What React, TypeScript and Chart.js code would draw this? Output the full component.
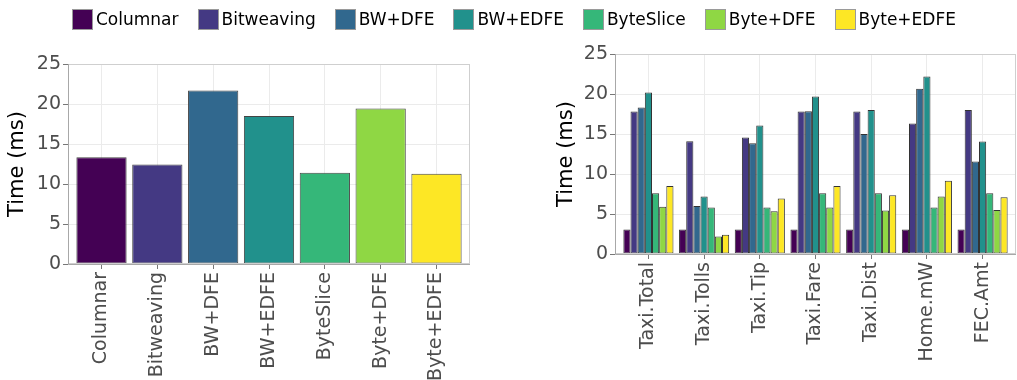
import React, { useEffect, useRef } from "react";
import { Chart, registerables } from "chart.js";

Chart.register(...registerables);

const methods = ["Columnar", "Bitweaving", "BW+DFE", "BW+EDFE", "ByteSlice", "Byte+DFE", "Byte+EDFE"];
const colors = ["#440154", "#443983", "#31688e", "#21918c", "#35b779", "#8fd744", "#fde725"];

// Left panel: overall time per method
const overallTimes = [13.35, 12.44, 21.7, 18.5, 11.4, 19.45, 11.27];

// Right panel: time per query per method
const queries = ["Taxi.Total", "Taxi.Tolls", "Taxi.Tip", "Taxi.Fare", "Taxi.Dist", "Home.mW", "FEC.Amt"];
const columnar = [3.05, 3.05, 3.05, 3.05, 3.05, 3.05, 3.05];
const bitweaving = [17.8, 14.1, 14.55, 17.8, 17.8, 16.3, 18.0];
const bwDfe = [18.3, 6.0, 13.85, 17.85, 15.0, 20.65, 11.55];
const bwEdfe = [20.2, 7.2, 16.05, 19.7, 18.0, 22.2, 14.05];
const byteSlice = [7.6, 5.8, 5.8, 7.6, 7.6, 5.8, 7.6];
const byteDfe = [5.9, 2.2, 5.35, 5.8, 5.45, 7.2, 5.5];
const byteEdfe = [8.5, 2.4, 6.95, 8.5, 7.35, 9.15, 7.1];
const querySeries = [columnar, bitweaving, bwDfe, bwEdfe, byteSlice, byteDfe, byteEdfe];

const yTicksMax = 25;
const FONT = "'DejaVu Sans', sans-serif";

const panelPlugin = {
  id: "panelBorder",
  afterDatasetsDraw(chart: any) {
    const { ctx, chartArea: a } = chart;
    ctx.save();
    ctx.lineWidth = 1;
    ctx.strokeStyle = "#cfcfcf";
    ctx.strokeRect(Math.round(a.left) + 0.5, Math.round(a.top) + 0.5, Math.round(a.right - a.left) - 1, Math.round(a.bottom - a.top) - 1);
    ctx.strokeStyle = "#a8a8a8";
    ctx.beginPath();
    ctx.moveTo(Math.round(a.left) + 0.5, Math.round(a.top));
    ctx.lineTo(Math.round(a.left) + 0.5, Math.round(a.bottom) + 0.5);
    ctx.lineTo(Math.round(a.right), Math.round(a.bottom) + 0.5);
    ctx.stroke();
    ctx.restore();
  },
};

function makeOptions(labels: string[], pad: any, yWidth: number, xHeight: number) {
  return {
    responsive: false,
    animation: false as const,
    devicePixelRatio: 1,
    layout: { padding: pad },
    plugins: { legend: { display: false }, tooltip: { enabled: false } },
    datasets: { bar: { categoryPercentage: 0.9, barPercentage: 1 } },
    scales: {
      x: {
        type: "linear" as const,
        min: -0.6,
        max: labels.length - 0.4,
        offset: false,
        afterBuildTicks: (s: any) => {
          s.ticks = labels.map((_, i) => ({ value: i }));
        },
        afterFit: (s: any) => {
          s.height = xHeight;
        },
        ticks: {
          autoSkip: false,
          maxRotation: 90,
          minRotation: 90,
          padding: 3,
          color: "#4d4d4d",
          font: { family: FONT, size: 19 },
          callback: (v: any) => labels[Math.round(v)] ?? "",
        },
        grid: {
          offset: false,
          color: "#ebebeb",
          tickLength: 5,
          tickColor: "#777777",
        },
        border: { display: false },
      },
      y: {
        min: 0,
        max: yTicksMax,
        afterFit: (s: any) => {
          s.width = yWidth;
        },
        ticks: {
          stepSize: 2.5,
          padding: 2,
          color: "#4d4d4d",
          font: { family: FONT, size: 19 },
          callback: (v: any) => (v % 5 === 0 ? String(v) : ""),
        },
        grid: {
          color: (c: any) => (c.tick && c.tick.value % 5 === 0 ? "#ebebeb" : "#f5f5f5"),
          tickColor: (c: any) => (c.tick && c.tick.value % 5 === 0 ? "#777777" : "rgba(0,0,0,0)"),
          tickLength: 5,
        },
        border: { display: false },
        title: {
          display: true,
          text: "Time (ms)",
          color: "#000000",
          font: { family: FONT, size: 21, lineHeight: 1.2 },
          padding: { top: 4, bottom: 4 },
        },
      },
    },
  };
}

function LeftChart() {
  const ref = useRef<HTMLCanvasElement>(null);
  useEffect(() => {
    const chart = new Chart(ref.current as HTMLCanvasElement, {
      type: "bar",
      data: {
        datasets: [
          {
            label: "Time",
            data: overallTimes.map((v, i) => ({ x: i, y: v })),
            backgroundColor: colors,
            borderColor: "#444444",
            borderWidth: 1,
            borderSkipped: false,
          },
        ],
      },
      options: makeOptions(methods, { left: 1, top: 64, right: 30, bottom: 0 }, 67, 116) as any,
      plugins: [panelPlugin],
    });
    return () => chart.destroy();
  }, []);
  return <canvas ref={ref} width={500} height={380} style={{ position: "absolute", left: 0, top: 0, width: 500, height: 380 }} />;
}

function RightChart() {
  const ref = useRef<HTMLCanvasElement>(null);
  useEffect(() => {
    const chart = new Chart(ref.current as HTMLCanvasElement, {
      type: "bar",
      data: {
        datasets: querySeries.map((s, k) => ({
          label: methods[k],
          data: s.map((v, i) => ({ x: i, y: v })),
          backgroundColor: colors[k],
          borderColor: "#333333",
          borderWidth: 1,
          borderSkipped: false,
        })),
      },
      options: makeOptions(queries, { left: 20, top: 54, right: 1, bottom: 0 }, 65, 126) as any,
      plugins: [panelPlugin],
    });
    return () => chart.destroy();
  }, []);
  return <canvas ref={ref} width={487} height={380} style={{ position: "absolute", left: 530, top: 0, width: 487, height: 380 }} />;
}

function Legend() {
  return (
    <div
      style={{
        position: "absolute",
        left: 72,
        top: 9,
        display: "flex",
        alignItems: "center",
        gap: 19,
        fontFamily: FONT,
        fontSize: 17,
        color: "#000",
        lineHeight: "21px",
        whiteSpace: "nowrap",
        zIndex: 2,
      }}
    >
      {methods.map((m, i) => (
        <div key={m} style={{ display: "flex", alignItems: "center" }}>
          <span
            style={{
              display: "inline-block",
              width: 19,
              height: 19,
              background: colors[i],
              border: "1px solid #9a9a9a",
              marginRight: 3,
            }}
          />
          <span>{m}</span>
        </div>
      ))}
    </div>
  );
}

export default function App() {
  return (
    <div style={{ position: "absolute", left: 0, top: 0, width: 1017, height: 380, background: "#ffffff", overflow: "hidden" }}>
      <LeftChart />
      <RightChart />
      <Legend />
    </div>
  );
}
